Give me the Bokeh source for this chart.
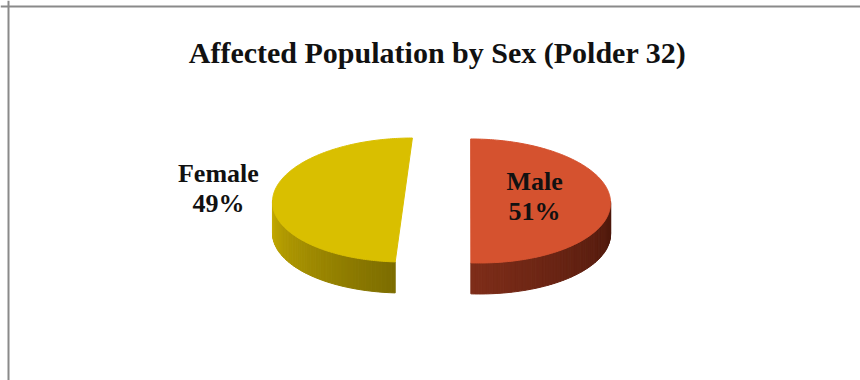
import numpy as np
from bokeh.plotting import figure
from bokeh.models import Range1d, Span, ColumnDataSource
from bokeh.core.properties import value
from bokeh.embed import file_html
from bokeh.resources import INLINE

# ---- data ----
title_text = "Affected Population by Sex (Polder 32)"
categories = ["Male", "Female"]
shares = [51, 49]
pct_labels = ["51%", "49%"]

# ---- styles ----
top_colors = ["#D5522F", "#D9BF00"]
side_start = ["#7E2D19", "#7C6C00"]   # colour at the front end of the visible wall
side_end = ["#4A170B", "#C6AC00"]     # colour at the far end of the visible wall

W, H = 860, 380
cx, cy = 441, 200
a, b = 135.5, 62
depth = 31
explode = 33.5
persp = 0.13        # explosion grows toward the viewer

p = figure(width=W, height=H, x_range=Range1d(0, W), y_range=Range1d(H, 0),
           output_backend="svg", toolbar_location=None,
           x_axis_location=None, y_axis_location=None, min_border=0,
           outline_line_color=None, background_fill_color="white",
           border_fill_color="white")
p.grid.visible = False


def hex2rgb(h):
    h = h.lstrip("#")
    return np.array([int(h[i:i + 2], 16) for i in (0, 2, 4)], dtype=float)


def mix(c1, c2, t):
    r = hex2rgb(c1) * (1 - t) + hex2rgb(c2) * t
    return "#%02x%02x%02x" % tuple(int(round(v)) for v in r)


total = float(sum(shares))
bounds = np.concatenate([[0.0], np.cumsum(shares) / total * 2 * np.pi])


def rim(th, dx, dy):
    y = cy + dy - b * np.cos(th)
    x = cx + dx * (1 + persp * (y - cy) / b) + a * np.sin(th)
    return x, y


side_xs, side_ys, side_cols = [], [], []
top_xs, top_ys = [], []
label_pos = []
for i, cat in enumerate(categories):
    t0, t1 = bounds[i], bounds[i + 1]
    mid = (t0 + t1) / 2
    dx = explode * np.sin(mid)
    dy = -explode * (b / a) * np.cos(mid)

    # visible outer wall: front half (pi/2 .. 3pi/2)
    v0, v1 = max(t0, np.pi / 2), min(t1, 3 * np.pi / 2)
    if v1 > v0:
        n = 60
        th = np.linspace(v0, v1, n + 1)
        xs, ys = rim(th, dx, dy)
        for k in range(n):
            side_xs.append([xs[k], xs[k + 1], xs[k + 1], xs[k]])
            side_ys.append([ys[k], ys[k + 1], ys[k + 1] + depth, ys[k] + depth])
            frac = (k + 0.5) / n
            if i == 0:
                col = mix(side_start[i], side_end[i], 1 - frac)
            else:
                col = mix(side_start[i], side_end[i], frac)
            side_cols.append(col)

    th = np.linspace(t0, t1, 200)
    xs, ys = rim(th, dx, dy)
    cxs, cys = rim(np.array([t0, t1]), dx, dy)
    top_xs.append(list(xs) + [cxs[0]])
    top_ys.append(list(ys) + [cys[0]])
    label_pos.append((cx + dx, cy + dy, mid))

p.patches(side_xs, side_ys, fill_color=side_cols, line_color=side_cols, line_width=1)
p.patches(top_xs, top_ys, fill_color=top_colors, line_color=top_colors, line_width=1)

# labels: male inside, female outside
lx, ly1, ly2 = [], [], []
for i, (ox, oy, mid) in enumerate(label_pos):
    r = 0.44 if i == 0 else 1.40
    x = ox + r * a * np.sin(mid)
    yc = oy + (-4 if i == 0 else -12)
    lx.append(x)
    ly1.append(yc - 15)
    ly2.append(yc + 15)

src = ColumnDataSource(dict(x=lx, y1=ly1, y2=ly2, name=categories, pct=pct_labels))
for ycol, tcol in (("y1", "name"), ("y2", "pct")):
    p.text(x="x", y=ycol, text=tcol, source=src, text_align="center",
           text_baseline="middle", text_font=value("Liberation Serif"),
           text_font_style="bold", text_font_size="26px", text_color="#111111")

p.text(x=[437], y=[52], text=[title_text], text_align="center",
       text_baseline="middle", text_font=value("Liberation Serif"),
       text_font_style="bold", text_font_size="30px", text_color="#111111")

p.add_layout(Span(location=6, dimension="width", line_color="#8A8A8A", line_width=2))
p.add_layout(Span(location=8, dimension="height", line_color="#8A8A8A", line_width=2))

open("out.html", "w").write(file_html(p, INLINE))
